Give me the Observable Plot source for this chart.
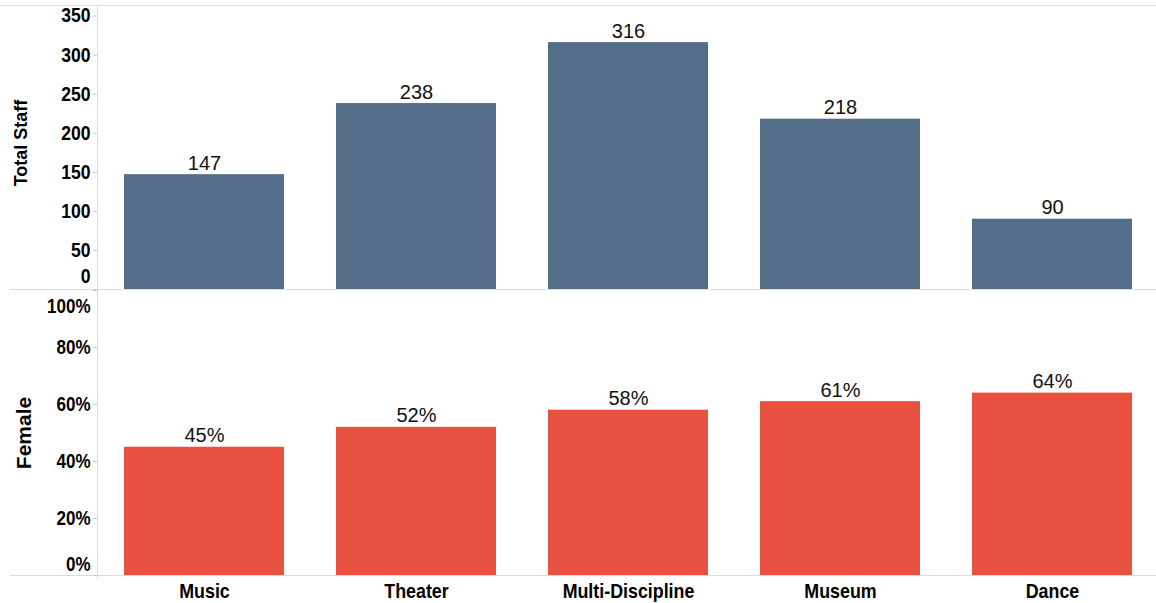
<!DOCTYPE html>
<html>
<head>
<meta charset="utf-8">
<script src="https://cdn.jsdelivr.net/npm/d3@7"></script>
<script src="https://cdn.jsdelivr.net/npm/@observablehq/plot@0.6"></script>
<style>
  html, body { margin: 0; padding: 0; background: #fff; }
  #chart { width: 1156px; overflow: hidden; }
  #chart svg { display: block; }
</style>
</head>
<body>
<div id="chart"></div>
<script>
const categories = ["Music", "Theater", "Multi-Discipline", "Museum", "Dance"];
const totalStaff = [147, 238, 316, 218, 90];
const femaleShare = [0.45, 0.52, 0.58, 0.61, 0.64];
const staffTicks = [0, 50, 100, 150, 200, 250, 300, 350];
const femaleTicks = [0, 0.2, 0.4, 0.6, 0.8, 1];
const staffLabel = "Total Staff";
const femaleLabel = "Female";

const staffData = categories.map((c, i) => ({category: c, value: totalStaff[i]}));
const femaleData = categories.map((c, i) => ({category: c, value: femaleShare[i]}));

const pct = d3.format(".0%");
const narrow = "'Liberation Sans Narrow', 'Arial Narrow', 'Liberation Sans', Arial, sans-serif";
const regular = "'Liberation Sans', Arial, sans-serif";
const lineColor = "#dcdcdc";
const xOpts = {domain: categories, range: [97, 1159.5], paddingInner: 0.247, paddingOuter: 0.1235};
const tickText = {fontFamily: narrow, fontSize: 20, fontWeight: "bold", fill: "#000"};

const topChart = Plot.plot({
  width: 1156, height: 290,
  marginTop: 5, marginBottom: 1, marginLeft: 97, marginRight: 0,
  style: {fontFamily: regular, background: "#fff", overflow: "visible"},
  x: {...xOpts, axis: null},
  y: {domain: [0, 363.5], axis: null},
  marks: [
    Plot.ruleY([363.5], {insetLeft: -97, stroke: lineColor}),
    Plot.barY(staffData, {x: "category", y: "value", fill: "#546D89"}),
    Plot.ruleY([0], {insetLeft: -87, stroke: lineColor}),
    Plot.frame({anchor: "left", stroke: lineColor}),
    Plot.axisY(staffTicks, {tickSize: 4, tickPadding: 3, stroke: "#c8c8c8", label: null,
      ...tickText, tickFormat: d => d === 0 ? "" : String(d)}),
    Plot.text([0], {y: d => d, frameAnchor: "left", dx: -7, dy: -13, textAnchor: "end",
      text: d => String(d), ...tickText}),
    Plot.text(staffData, {x: "category", y: "value", text: d => String(d.value),
      lineAnchor: "bottom", dy: -5, fontSize: 20, fill: "#111"}),
    Plot.text([staffLabel], {frameAnchor: "left", rotate: -90, dx: -76, dy: -4.5,
      textAnchor: "middle", fontSize: 18, fontWeight: "bold", fill: "#000"})
  ]
});

const bottomChart = Plot.plot({
  width: 1156, height: 314,
  marginTop: 0, marginBottom: 29, marginLeft: 97, marginRight: 0,
  style: {fontFamily: regular, background: "#fff", overflow: "visible"},
  x: {...xOpts, axis: null},
  y: {domain: [0, 1], axis: null},
  marks: [
    Plot.barY(femaleData, {x: "category", y: "value", fill: "#E85040"}),
    Plot.ruleY([0], {insetLeft: -87, stroke: lineColor}),
    Plot.frame({anchor: "left", stroke: lineColor, insetBottom: -3}),
    Plot.axisY(femaleTicks, {tickSize: 4, tickPadding: 3, stroke: "#c8c8c8", label: null,
      ...tickText, tickFormat: d => (d === 0 || d === 1) ? "" : pct(d)}),
    Plot.text([1], {y: d => d, frameAnchor: "left", dx: -7, dy: 16, textAnchor: "end",
      text: d => pct(d), ...tickText}),
    Plot.text([0], {y: d => d, frameAnchor: "left", dx: -7, dy: -11, textAnchor: "end",
      text: d => pct(d), ...tickText}),
    Plot.text(femaleData, {x: "category", y: "value", text: d => pct(d.value),
      lineAnchor: "bottom", dy: -5, fontSize: 20, fill: "#111"}),
    Plot.text([femaleLabel], {frameAnchor: "left", rotate: -90, dx: -73.5, dy: 0,
      textAnchor: "middle", fontSize: 21, fontWeight: "bold", fill: "#000"}),
    Plot.axisX({tickSize: 0, tickPadding: 8, label: null, fontFamily: narrow, fontSize: 21,
      fontWeight: "bold", fill: "#000"})
  ]
});

// condensed look for the axis labels (no narrow font is installed)
function condense(svg, factor) {
  svg.querySelectorAll('g[font-family*="Narrow"] text').forEach(t => {
    const tr = t.getAttribute("transform");
    if (tr) {
      t.setAttribute("transform", tr + ` scale(${factor},1)`);
    } else {
      const x = +(t.getAttribute("x") || 0), y = +(t.getAttribute("y") || 0);
      t.removeAttribute("x"); t.removeAttribute("y");
      t.setAttribute("transform", `translate(${x},${y}) scale(${factor},1)`);
    }
  });
}
condense(topChart, 0.88);
condense(bottomChart, 0.85);

const root = document.getElementById("chart");
root.append(topChart, bottomChart);
</script>
</body>
</html>
